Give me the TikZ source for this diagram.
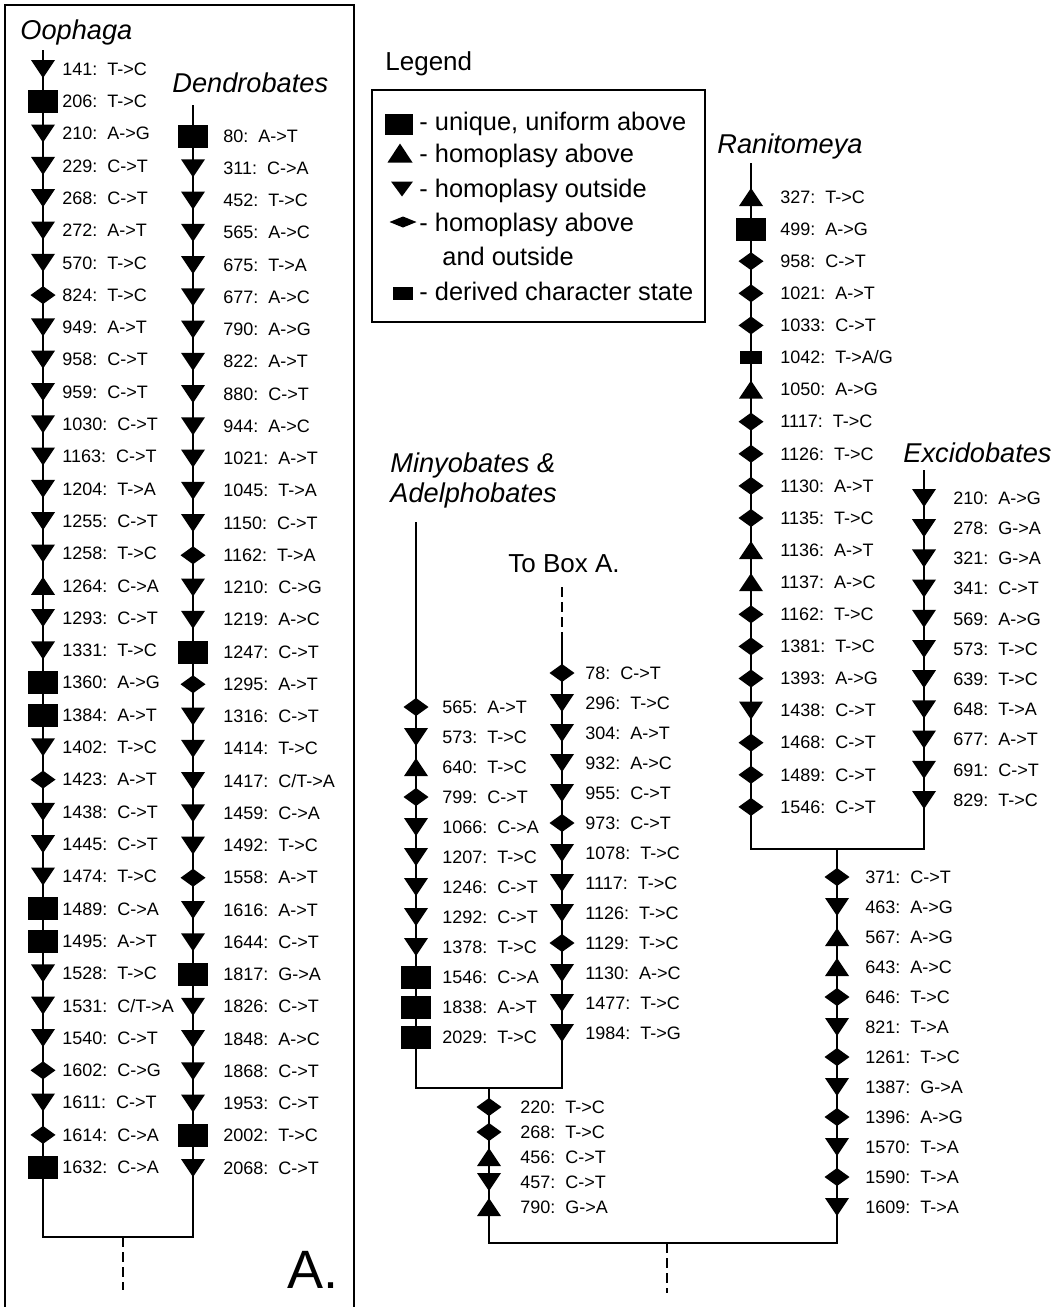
\documentclass[tikz,border=0pt]{standalone}
\usepackage{fontspec}
\setmainfont{Liberation Sans}
\newcommand{\labfont}{\fontsize{9}{10}\selectfont}
\newcommand{\ttlfont}{\fontsize{13.6}{15}\selectfont\itshape}
\newcommand{\legfont}{\fontsize{12.7}{14}\selectfont}
% one column of character changes: prefix, line x, label x, first y, step, list
\newcommand{\branch}[6]{%
  \foreach \mk/\ps/\ch [count=\i from 0] in {#6} {
    \node[\mk] (#1\i) at (#2,#4+#5*\i) {};
    \node[lab] (#1\i-t) at (#3,#4+#5*\i) {\ps:~~\ch};
  }}
\begin{document}
\begin{tikzpicture}[x=0.5pt,y=-0.5pt,
  mk/.style={inner sep=0pt, outer sep=0pt, minimum width=12pt, minimum height=9pt},
  msq/.style={mk, fill, minimum width=15pt, minimum height=11.5pt},
  mrs/.style={mk, fill, minimum width=11pt, minimum height=6.5pt},
  mdn/.style={mk, path picture={\fill (path picture bounding box.north west) -- (path picture bounding box.north east) -- (path picture bounding box.south) -- cycle;}},
  mup/.style={mk, path picture={\fill (path picture bounding box.south west) -- (path picture bounding box.south east) -- (path picture bounding box.north) -- cycle;}},
  mdm/.style={mk, minimum width=12.5pt, path picture={\fill (path picture bounding box.west) -- (path picture bounding box.north) -- (path picture bounding box.east) -- (path picture bounding box.south) -- cycle;}},
  lab/.style={anchor=west, inner sep=0pt, font=\labfont},
  ttl/.style={anchor=base west, inner sep=0pt, font=\ttlfont},
  leg/.style={anchor=base west, inner sep=0pt, font=\legfont},
  br/.style={line width=1.25pt},
  dsh/.style={line width=1.25pt, dash pattern=on 5pt off 2.5pt},
  frm/.style={line width=1pt}]
\useasboundingbox (0,0) rectangle (1064,1307);

% box A
\draw[frm] (5,1307) -- (5,5) -- (354,5) -- (354,1307);
\node[ttl] (oophaga) at (20,39) {Oophaga};
\node[ttl] (dendro) at (172,92) {Dendrobates};
\coordinate (oo-top) at (43,50);
\coordinate (oo-bot) at (43,1237);
\coordinate (de-top) at (193,105);
\coordinate (de-bot) at (193,1237);
\coordinate (a-root) at (123,1237);
\coordinate (a-end) at (123,1290);
\draw[br] (oo-top) -- (oo-bot) -- (de-bot) -- (de-top);
\draw[dsh] (a-root) -- (a-end);
\branch{oo}{43}{62}{69}{32.3}{mdn/141/T->C, msq/206/T->C, mdn/210/A->G, mdn/229/C->T, mdn/268/C->T, mdn/272/A->T, mdn/570/T->C, mdm/824/T->C, mdn/949/A->T, mdn/958/C->T, mdn/959/C->T, mdn/1030/C->T, mdn/1163/C->T, mdn/1204/T->A, mdn/1255/C->T, mdn/1258/T->C, mup/1264/C->A, mdn/1293/C->T, mdn/1331/T->C, msq/1360/A->G, msq/1384/A->T, mdn/1402/T->C, mdm/1423/A->T, mdn/1438/C->T, mdn/1445/C->T, mdn/1474/T->C, msq/1489/C->A, msq/1495/A->T, mdn/1528/T->C, mdn/1531/{C/T->A}, mdn/1540/C->T, mdm/1602/C->G, mdn/1611/C->T, mdm/1614/C->A, msq/1632/C->A}
\branch{de}{193}{223}{136}{32.25}{msq/80/A->T, mdn/311/C->A, mdn/452/T->C, mdn/565/A->C, mdn/675/T->A, mdn/677/A->C, mdn/790/A->G, mdn/822/A->T, mdn/880/C->T, mdn/944/A->C, mdn/1021/A->T, mdn/1045/T->A, mdn/1150/C->T, mdm/1162/T->A, mdn/1210/C->G, mdn/1219/A->C, msq/1247/C->T, mdm/1295/A->T, mdn/1316/C->T, mdn/1414/T->C, mdn/1417/{C/T->A}, mdn/1459/C->A, mdn/1492/T->C, mdm/1558/A->T, mdn/1616/A->T, mdn/1644/C->T, msq/1817/G->A, mdn/1826/C->T, mdn/1848/A->C, mdn/1868/C->T, mdn/1953/C->T, msq/2002/T->C, mdn/2068/C->T}
\node[anchor=base west, inner sep=0pt, font=\fontsize{27}{30}\selectfont] (boxa) at (287,1288) {A.};

% legend
\node[leg, font=\fontsize{13}{15}\selectfont] (legend) at (385,70) {Legend};
\draw[frm] (372,90) rectangle (705,322);
\node[msq, minimum width=14pt, minimum height=10.5pt] (l1) at (399,124) {};
\node[mup, minimum width=12.5pt, minimum height=9.5pt] (l2) at (400,153) {};
\node[mdn, minimum width=11pt, minimum height=7.5pt] (l3) at (402,189) {};
\node[mdm, minimum width=13.5pt, minimum height=5.5pt] (l4) at (403,222) {};
\node[mrs, minimum width=10pt, minimum height=6.5pt] (l5) at (403,293) {};
\node[leg] (l1-t) at (419,130) {- unique, uniform above};
\node[leg] (l2-t) at (419,162) {- homoplasy above};
\node[leg] (l3-t) at (419,197) {- homoplasy outside};
\node[leg] (l4-t) at (419,231) {- homoplasy above};
\node[leg] (l4-u) at (442,265) {and outside};
\node[leg] (l5-t) at (419,300) {- derived character state};

% right part of the tree
\node[ttl] (minyo) at (390,472) {Minyobates \&};
\node[ttl] (adelpho) at (390,502) {Adelphobates};
\node[anchor=base west, inner sep=0pt, font=\fontsize{13}{15}\selectfont] (tobox) at (508,572) {To Box A.};
\node[ttl] (rani) at (717,153) {Ranitomeya};
\node[ttl] (excido) at (903,462) {Excidobates};
\coordinate (mi-top) at (416,522);
\coordinate (mi-bot) at (416,1088);
\coordinate (tb-dash) at (562,587);
\coordinate (tb-top) at (562,640);
\coordinate (tb-bot) at (562,1088);
\coordinate (mt-top) at (489,1088);
\coordinate (mt-bot) at (489,1243);
\coordinate (ra-top) at (751,163);
\coordinate (ra-bot) at (751,849);
\coordinate (ex-top) at (924,470);
\coordinate (ex-bot) at (924,849);
\coordinate (re-top) at (837,849);
\coordinate (re-bot) at (837,1243);
\coordinate (root) at (667,1243);
\coordinate (root-end) at (667,1293);
\draw[dsh] (tb-dash) -- (tb-top);
\draw[br] (mi-top) -- (mi-bot) -- (tb-bot) -- (tb-top);
\draw[br] (ra-top) -- (ra-bot) -- (ex-bot) -- (ex-top);
\draw[br] (mt-top) -- (mt-bot) -- (re-bot) -- (re-top);
\draw[dsh] (root) -- (root-end);
\branch{mi}{416}{442}{707}{30}{mdm/565/A->T, mdn/573/T->C, mup/640/T->C, mdm/799/C->T, mdn/1066/C->A, mdn/1207/T->C, mdn/1246/C->T, mdn/1292/C->T, mdn/1378/T->C, msq/1546/C->A, msq/1838/A->T, msq/2029/T->C}
\branch{tb}{562}{585}{673}{30}{mdm/78/C->T, mdn/296/T->C, mdn/304/A->T, mdn/932/A->C, mdn/955/C->T, mdm/973/C->T, mdn/1078/T->C, mdn/1117/T->C, mdn/1126/T->C, mdm/1129/T->C, mdn/1130/A->C, mdn/1477/T->C, mdn/1984/T->G}
\branch{mt}{489}{520}{1107}{25}{mdm/220/T->C, mdm/268/T->C, mup/456/C->T, mdn/457/C->T, mup/790/G->A}
\branch{ra}{751}{780}{197}{32.1}{mup/327/T->C, msq/499/A->G, mdm/958/C->T, mdm/1021/A->T, mdm/1033/C->T, mrs/1042/{T->A/G}, mup/1050/A->G, mdm/1117/T->C, mdm/1126/T->C, mdm/1130/A->T, mdm/1135/T->C, mup/1136/A->T, mup/1137/A->C, mdm/1162/T->C, mdm/1381/T->C, mdm/1393/A->G, mdn/1438/C->T, mdm/1468/C->T, mdm/1489/C->T, mdm/1546/C->T}
\branch{ex}{924}{953}{498}{30.2}{mdn/210/A->G, mdn/278/G->A, mdn/321/G->A, mdn/341/C->T, mdn/569/A->G, mdn/573/T->C, mdn/639/T->C, mdn/648/T->A, mdn/677/A->T, mdn/691/C->T, mdn/829/T->C}
\branch{re}{837}{865}{877}{30}{mdm/371/C->T, mdn/463/A->G, mup/567/A->G, mup/643/A->C, mdm/646/T->C, mdn/821/T->A, mdm/1261/T->C, mdn/1387/G->A, mdm/1396/A->G, mdn/1570/T->A, mdm/1590/T->A, mdn/1609/T->A}
\end{tikzpicture}
\end{document}
